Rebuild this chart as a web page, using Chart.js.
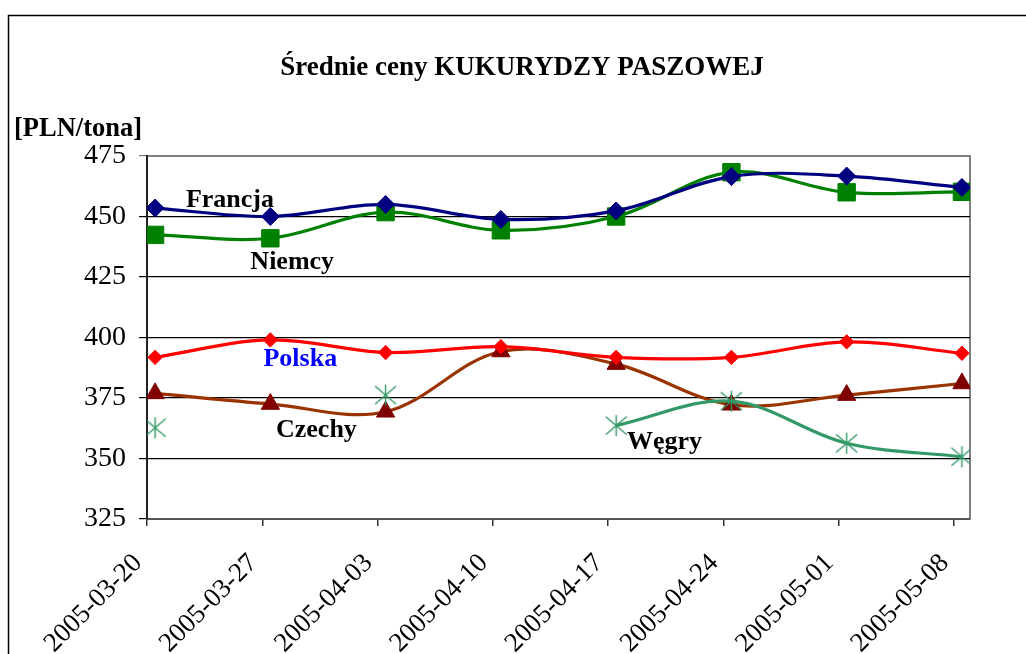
<!DOCTYPE html>
<html>
<head>
<meta charset="utf-8">
<script src="https://cdn.jsdelivr.net/npm/chart.js@4"></script>
<style>
html,body{margin:0;padding:0;background:#fff;}
#wrap{position:relative;width:1026px;height:654px;}
</style>
</head>
<body>
<div id="wrap"><canvas id="c" width="1026" height="654"></canvas></div>
<script>
// ---- data ----
const dates = ['2005-03-20','2005-03-27','2005-04-03','2005-04-10','2005-04-17','2005-04-24','2005-05-01','2005-05-08'];
const francja = [453.5, 450, 455, 448.8, 452.3, 466.5, 466.7, 462];
const niemcy  = [442.4, 441, 451.8, 444.3, 450, 468.3, 460, 460.2];
const polska  = [391.8, 399, 393.8, 396.2, 391.8, 391.8, 398.2, 393.5];
const czechy  = [376.9, 372.5, 369.3, 394.2, 389, 372.2, 376.2, 381];
const wegry   = [362.7, null, 376.2, null, 363.6, 373.7, 356.3, 350.7];
const yTicks  = [325, 350, 375, 400, 425, 450, 475];

const POINT_SHIFT = 0.07; // points sit slightly right of week tick
const toPts = arr => arr.map((v, i) => ({x: i + POINT_SHIFT, y: v}));

// asterisk marker
function asterisk(size, color){
  const c = document.createElement('canvas');
  c.width = size; c.height = size;
  const g = c.getContext('2d');
  g.strokeStyle = color; g.lineWidth = 1.4;
  const m = size/2, r = size/2 - 1;
  g.beginPath();
  g.moveTo(m - r, m - r*0.85); g.lineTo(m + r, m + r*0.85);
  g.moveTo(m - r, m + r*0.85); g.lineTo(m + r, m - r*0.85);
  g.moveTo(m, m - r); g.lineTo(m, m + r);
  g.stroke();
  return c;
}
const star = asterisk(23, '#339966');

const SERIF = '"Liberation Serif", "Times New Roman", serif';

const labelsPlugin = {
  id: 'extras',
  beforeDraw(chart){
    const {ctx, chartArea: a} = chart;
    ctx.save();
    ctx.fillStyle = '#fff';
    ctx.fillRect(0,0,chart.width,chart.height);
    // outer frame
    ctx.strokeStyle = '#000'; ctx.lineWidth = 1.5;
    ctx.beginPath();
    ctx.moveTo(8.5, 660); ctx.lineTo(8.5, 15.5); ctx.lineTo(1030, 15.5);
    ctx.stroke();
    // plot frame (gray top/right)
    ctx.strokeStyle = '#808080'; ctx.lineWidth = 2;
    ctx.beginPath();
    ctx.moveTo(a.left, a.top); ctx.lineTo(a.right, a.top); ctx.lineTo(a.right, a.bottom);
    ctx.stroke();
    ctx.restore();
  },
  afterDraw(chart){
    const {ctx, scales:{x, y}, chartArea: a} = chart;
    ctx.save();
    ctx.fillStyle = '#000';
    ctx.textAlign = 'center'; ctx.textBaseline = 'middle';
    ctx.font = 'bold 27px ' + SERIF;
    ctx.fillText('Średnie ceny KUKURYDZY PASZOWEJ', 522, 68);
    ctx.textAlign = 'left';
    ctx.font = 'bold 26.5px ' + SERIF;
    ctx.fillText('[PLN/tona]', 14, 129);
    // rotated date labels
    ctx.font = '27px ' + SERIF;
    ctx.textAlign = 'right'; ctx.textBaseline = 'middle';
    dates.forEach((d, i) => {
      ctx.save();
      ctx.translate(x.getPixelForValue(i) - 9, a.bottom + 40);
      ctx.rotate(-Math.PI / 4);
      ctx.fillText(d, 0, 0);
      ctx.restore();
    });
    const notes = [
      ['Francja', 0.72, 456.6, '#000'],
      ['Niemcy', 1.26, 431, '#000'],
      ['Polska', 1.33, 390.8, '#0000FF'],
      ['Czechy', 1.47, 361.8, '#000'],
      ['Węgry', 4.49, 356.8, '#000']
    ];
    ctx.textAlign = 'center';
    ctx.font = 'bold 26px ' + SERIF;
    notes.forEach(([t, xv, yv, col]) => {
      ctx.fillStyle = col;
      ctx.fillText(t, x.getPixelForValue(xv), y.getPixelForValue(yv));
    });
    ctx.restore();
  }
};

function ds(label, data, line, marker, style, radius, order){
  return {
    label, data: toPts(data),
    borderColor: line, backgroundColor: marker,
    pointStyle: style, pointRadius: radius, pointHoverRadius: radius,
    pointBackgroundColor: marker, pointBorderColor: marker, pointBorderWidth: 1,
    borderWidth: 3.2, tension: 0.35, fill: false, spanGaps: false, order
  };
}

new Chart(document.getElementById('c'), {
  type: 'line',
  data: {
    datasets: [
      ds('Francja', francja, '#000080', '#000080', 'rectRot', 9, 0),
      ds('Niemcy', niemcy, '#008000', '#008000', 'rect', 12.3, 1),
      ds('Polska', polska, '#FF0000', '#FF0000', 'rectRot', 7.2, 2),
      ds('Czechy', czechy, '#993300', '#800000', 'triangle', 10.5, 3),
      ds('Węgry', wegry, '#339966', '#339966', star, 11, -1)
    ]
  },
  options: {
    responsive: false,
    animation: false,
    events: [],
    layout: {padding: {top: 156, right: 56, left: 0, bottom: 0}},
    plugins: {legend: {display: false}, tooltip: {enabled: false}, title: {display: false}},
    scales: {
      x: {
        type: 'linear', min: 0, max: 7.14,
        afterBuildTicks: s => { s.ticks = dates.map((d, i) => ({value: i})); },
        afterFit: s => { s.height = 135; },
        border: {display: true, color: '#555', width: 2},
        grid: {drawOnChartArea: false, drawTicks: true, tickLength: 7, color: '#333', lineWidth: 1.5},
        ticks: {display: false}
      },
      y: {
        min: 325, max: 475,
        afterBuildTicks: s => { s.ticks = yTicks.map(v => ({value: v})); },
        afterFit: s => { s.width = 147; },
        border: {display: true, color: '#222', width: 2},
        grid: {
          drawTicks: true, tickLength: 8, lineWidth: 1.2,
          color: c => (c.tick && c.tick.value === 475) ? '#808080' : '#000'
        },
        ticks: {color: '#000', padding: 13, font: {family: SERIF, size: 28}}
      }
    }
  },
  plugins: [labelsPlugin]
});
</script>
</body>
</html>
